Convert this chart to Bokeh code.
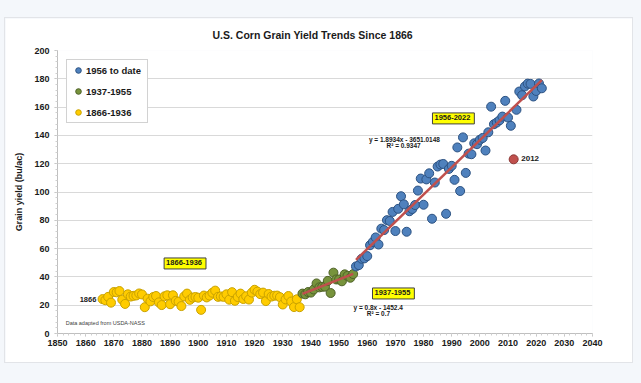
import numpy as np
from bokeh.plotting import figure
from bokeh.models import Label, Legend, LegendItem, FixedTicker, Range1d, Title
from bokeh.embed import file_html
from bokeh.resources import INLINE

# ---------------- data ----------------
years_1866_1936 = list(range(1866, 1937))
yield_1866_1936 = [
    24.3, 23.5, 25.9, 21.8, 29.3, 29.1, 30.0, 23.9, 20.9, 27.7,
    26.1, 26.6, 26.9, 28.3, 27.6, 18.6, 24.6, 22.7, 25.8, 26.5,
    22.0, 20.1, 26.3, 27.0, 20.7, 27.0, 23.1, 22.5, 19.4, 26.2,
    28.2, 23.8, 25.4, 25.8, 25.3, 16.7, 26.8, 25.5, 26.8, 28.8,
    30.3, 25.9, 26.2, 25.9, 27.7, 23.9, 29.2, 23.1, 25.8, 28.2,
    24.4, 26.3, 24.0, 28.9, 30.9, 29.6, 27.8, 28.9, 22.9, 27.9,
    26.1, 26.7, 26.8, 25.7, 20.5, 24.1, 26.5, 22.6, 18.7, 24.2, 18.6,
]
years_1937_1955 = list(range(1937, 1956))
yield_1937_1955 = [
    28.2, 27.7, 29.3, 28.9, 31.1, 35.4, 32.6, 33.0, 33.1, 37.2,
    28.6, 43.0, 38.2, 38.2, 36.9, 41.8, 40.7, 39.4, 42.0,
]
years_1956_date = [y for y in range(1956, 2023) if y != 2012]
yield_1956_date = [
    47.4, 48.3, 52.8, 53.1, 54.7, 62.4, 64.7, 67.9, 62.9, 74.1,
    73.1, 80.1, 79.5, 85.9, 72.4, 88.1, 97.0, 91.3, 71.9, 86.4,
    88.0, 90.8, 101.0, 109.5, 91.0, 108.9, 113.2, 81.1, 106.7, 118.0,
    119.4, 119.8, 84.6, 116.3, 118.5, 108.6, 131.5, 100.7, 138.6, 113.5,
    127.1, 126.7, 134.4, 133.8, 136.9, 138.2, 129.3, 142.2, 160.3, 147.9,
    149.1, 150.7, 153.3, 164.4, 152.6, 146.8,
    158.1, 171.0, 168.4, 174.6, 176.6, 176.4, 167.5, 171.4, 176.7, 173.3,
]
year_2012 = [2012]
yield_2012 = [123.1]

x_ticks = list(range(1850, 2041, 10))
y_ticks = list(range(0, 201, 20))

FONT = "Liberation Sans"

# ---------------- figure ----------------
title = Title(text="U.S. Corn Grain Yield Trends Since 1866", text_font=FONT,
              text_font_size="10.5px", text_font_style="bold", text_color="#1a1a1a",
              align="left", offset=155, vertical_align="middle", standoff=18)
p = figure(width=627, height=344, x_range=Range1d(1850, 2040), y_range=Range1d(0, 200),
           output_backend="svg", toolbar_location=None, title=title,
           min_border_left=52, min_border_right=40, min_border_top=10, min_border_bottom=29)
p.margin = (18, 0, 0, 5)
p.styles = {"box-shadow": "0 0 0 1px #e2e4e8"}
p.background_fill_color = "white"
p.border_fill_color = "white"
p.outline_line_color = None

p.xgrid.visible = False
p.ygrid.grid_line_color = "#d9d9d9"
p.ygrid.grid_line_width = 1

p.xaxis.ticker = FixedTicker(ticks=x_ticks, minor_ticks=list(range(1850, 2041, 2)))
p.yaxis.ticker = FixedTicker(ticks=y_ticks, minor_ticks=list(range(0, 201, 4)))
for ax in (p.xaxis[0], p.yaxis[0]):
    ax.axis_line_color = "#bfbfbf"
    ax.major_tick_line_color = "#bfbfbf"
    ax.minor_tick_line_color = "#d0d0d0"
    ax.major_tick_out = 3
    ax.major_tick_in = 0
    ax.minor_tick_out = 2
    ax.minor_tick_in = 0
    ax.major_label_text_font = FONT
    ax.major_label_text_font_size = "9px"
    ax.major_label_text_font_style = "bold"
    ax.major_label_text_color = "#1a1a1a"
p.xaxis.major_label_standoff = 3
p.yaxis.major_label_standoff = 5
p.yaxis.axis_label = "Grain yield (bu/ac)"
p.yaxis.axis_label_text_font = FONT
p.yaxis.axis_label_text_font_size = "9px"
p.yaxis.axis_label_text_font_style = "bold"
p.yaxis.axis_label_text_color = "#1a1a1a"
p.yaxis.axis_label_standoff = 7

# ---------------- points ----------------
r_yellow = p.scatter(years_1866_1936, yield_1866_1936, size=9, fill_color="#ffcc00",
                     line_color="#c9a200", line_width=1)
r_green = p.scatter(years_1937_1955, yield_1937_1955, size=9, fill_color="#77933c",
                    line_color="#4f6228", line_width=1)
r_blue = p.scatter(years_1956_date, yield_1956_date, size=9, fill_color="#4f81bd",
                   line_color="#2c5282", line_width=1)
r_red = p.scatter(year_2012, yield_2012, size=9, fill_color="#c0504d",
                  line_color="#8c3836", line_width=1)

# ---------------- trend lines (least squares from the data) ----------------
for xs, ys in ((years_1937_1955, yield_1937_1955), (years_1956_date, yield_1956_date)):
    coef = np.polyfit(xs, ys, 1)
    lx = [xs[0], xs[-1]]
    p.line(lx, list(np.polyval(coef, lx)), line_color="#c0504d", line_width=2.5)

# ---------------- legend ----------------
legend = Legend(items=[
    LegendItem(label="1956 to date", renderers=[r_blue]),
    LegendItem(label="1937-1955", renderers=[r_green]),
    LegendItem(label="1866-1936", renderers=[r_yellow]),
], location="top_left", margin=9, padding=3, spacing=7,
    glyph_width=16, glyph_height=14, label_height=14, label_width=58, label_standoff=0,
    label_text_font=FONT, label_text_font_size="9.5px", label_text_font_style="bold",
    label_text_color="#1a1a1a", border_line_color="#a6a6a6", border_line_width=1,
    background_fill_color="white", background_fill_alpha=1)
p.add_layout(legend)

# ---------------- annotations ----------------
def txt(x, y, s, size, bold=True, align="center", color="#1a1a1a", box=False):
    kw = dict(x=x, y=y, text=s, text_font=FONT, text_font_size=size,
              text_font_style="bold" if bold else "normal", text_align=align,
              text_baseline="middle", text_color=color)
    if box:
        kw.update(background_fill_color="#ffff00", border_line_color="#404040",
                  border_line_width=1, padding=(2, 4, 2, 4))
    p.add_layout(Label(**kw))

txt(1990.6, 152.0, "1956-2022", "7.5px", box=True)
txt(1895.3, 49.5, "1866-1936", "7.5px", box=True)
txt(1969.3, 28.3, "1937-1955", "7.5px", box=True)
txt(1973.2, 137.1, "y = 1.8934x - 3651.0148", "6.5px")
txt(1972.9, 132.6, "R\u00b2 = 0.9347", "6.5px")
txt(1963.9, 18.6, "y = 0.8x - 1452.4", "6.5px")
txt(1964.0, 14.3, "R\u00b2 = 0.7", "6.5px")
txt(2014.7, 123.7, "2012", "8px", align="left")
txt(1863.8, 23.8, "1866", "7.5px", align="right")
txt(1852.9, 7.3, "Data adapted from USDA-NASS", "5.5px", bold=False, align="left", color="#404040")

template = """{% block postamble %}<style>body { background-color: #f4f7fb; }</style>{% endblock %}"""
html = file_html(p, INLINE, title="U.S. Corn Grain Yield Trends Since 1866", template=template)
open("out.html", "w").write(html)
